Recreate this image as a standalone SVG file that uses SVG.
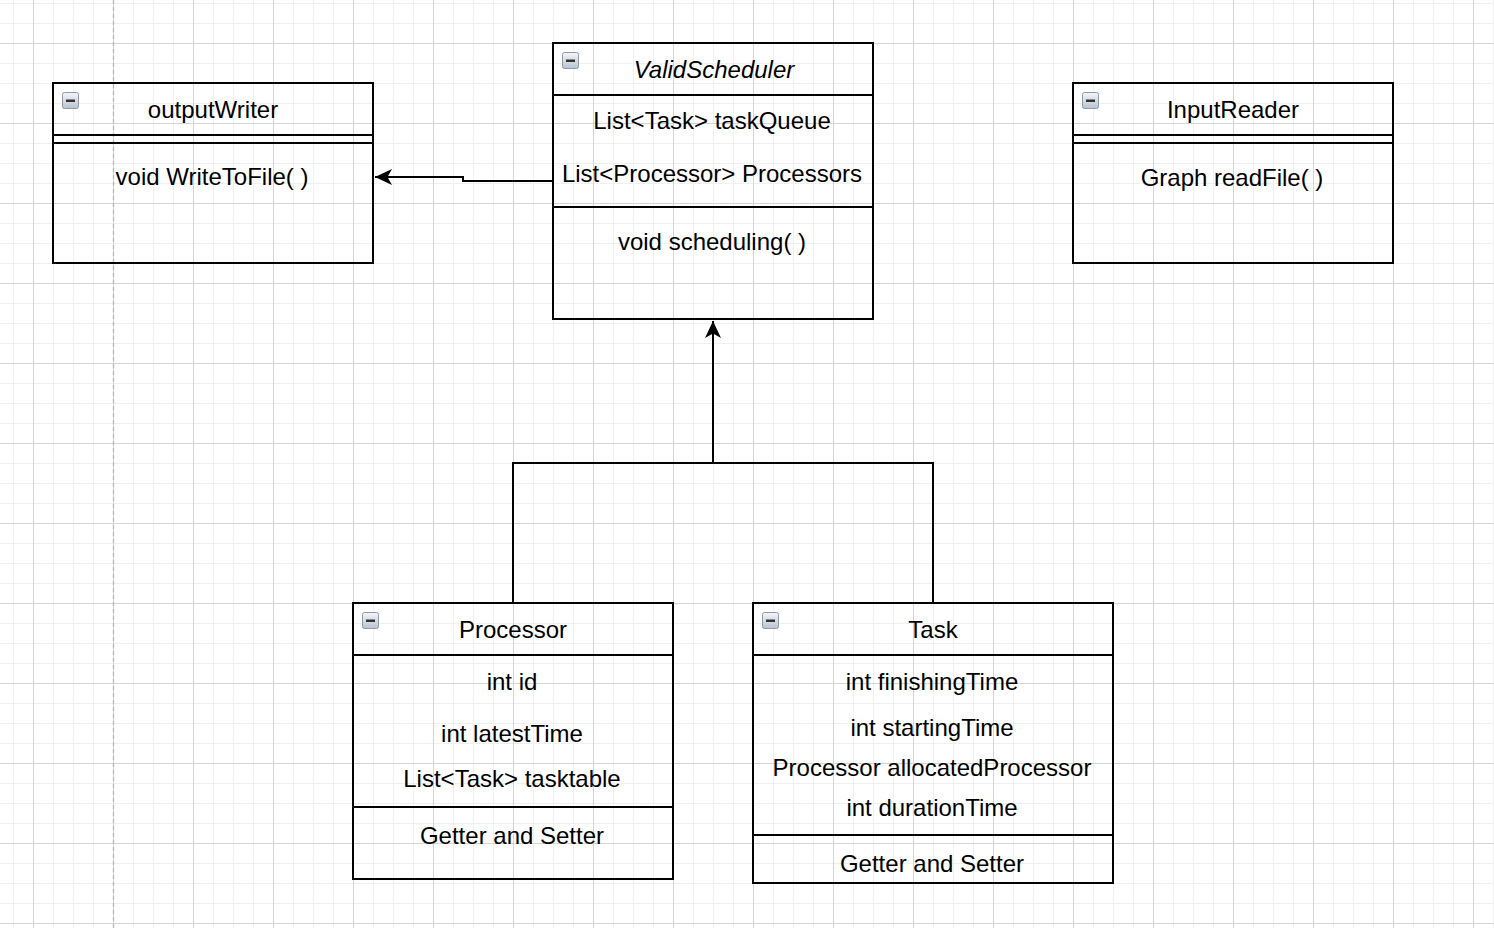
<svg xmlns="http://www.w3.org/2000/svg" width="1494" height="928" viewBox="0 0 1494 928">
<style>
.box{fill:none;stroke:#000;stroke-width:2}
.sep{stroke:#000;stroke-width:2}
.t{font-family:"Liberation Sans",Arial,Helvetica,sans-serif;font-size:24px;fill:#000;text-anchor:middle}
.it{font-style:italic}
.conn{fill:none;stroke:#000;stroke-width:2}
</style>
<defs>
<pattern id="grid" patternUnits="userSpaceOnUse" x="-47" y="-37" width="80" height="80">
<rect x="20" y="0" width="1" height="80" fill="#f0f0f0"/>
<rect x="40" y="0" width="1" height="80" fill="#f0f0f0"/>
<rect x="60" y="0" width="1" height="80" fill="#f0f0f0"/>
<rect x="0" y="20" width="80" height="1" fill="#f0f0f0"/>
<rect x="0" y="40" width="80" height="1" fill="#f0f0f0"/>
<rect x="0" y="60" width="80" height="1" fill="#f0f0f0"/>
<rect x="0" y="0" width="1" height="80" fill="#d5d5d5"/>
<rect x="0" y="0" width="80" height="1" fill="#d5d5d5"/>
</pattern>
<linearGradient id="ig" x1="0" y1="0" x2="0" y2="1">
<stop offset="0" stop-color="#f4f6f9"/>
<stop offset="1" stop-color="#b9c3cf"/>
</linearGradient>
<g id="minus">
<rect x="0.5" y="0.5" width="16" height="16" rx="2" fill="url(#ig)" stroke="#8e9aa8" stroke-width="1"/>
<rect x="4" y="7.5" width="9" height="2.5" fill="#333"/>
</g>
<marker id="arr" markerUnits="userSpaceOnUse" markerWidth="20" markerHeight="20" viewBox="0 0 20 20" refX="18" refY="10" orient="auto">
<path d="M18 10 L1 2 L5.5 10 L1 18 Z" fill="#000"/>
</marker>
</defs>
<rect width="1494" height="928" fill="#fff"/>
<rect width="1494" height="928" fill="url(#grid)"/>
<line x1="113.5" y1="0" x2="113.5" y2="928" stroke="#b8b8b8" stroke-width="1.3" stroke-dasharray="4 3"/>

<g id="connectors">
<path class="conn" d="M553 181 H463 V177 H375" marker-end="url(#arr)"/>
<path class="conn" d="M513 603 V463 H713 V321" marker-end="url(#arr)"/>
<path class="conn" d="M933 603 V463 H713"/>
</g>

<g id="outputWriter">
<rect class="box" x="53" y="83" width="320" height="180"/>
<line class="sep" x1="53" y1="135" x2="373" y2="135"/>
<line class="sep" x1="53" y1="143" x2="373" y2="143"/>
<use href="#minus" x="62" y="92"/>
<text class="t" x="213" y="118">outputWriter</text>
<text class="t" x="212" y="185">void WriteToFile( )</text>
</g>

<g id="ValidScheduler">
<rect class="box" x="553" y="43" width="320" height="276"/>
<line class="sep" x1="553" y1="95" x2="873" y2="95"/>
<line class="sep" x1="553" y1="207" x2="873" y2="207"/>
<use href="#minus" x="562" y="52"/>
<text class="t it" x="714" y="78">ValidScheduler</text>
<text class="t" x="712" y="129">List&lt;Task&gt; taskQueue</text>
<text class="t" x="712" y="182">List&lt;Processor&gt; Processors</text>
<text class="t" x="712" y="250">void scheduling( )</text>
</g>

<g id="InputReader">
<rect class="box" x="1073" y="83" width="320" height="180"/>
<line class="sep" x1="1073" y1="135" x2="1393" y2="135"/>
<line class="sep" x1="1073" y1="143" x2="1393" y2="143"/>
<use href="#minus" x="1082" y="92"/>
<text class="t" x="1233" y="118">InputReader</text>
<text class="t" x="1232" y="186">Graph readFile( )</text>
</g>

<g id="Processor">
<rect class="box" x="353" y="603" width="320" height="276"/>
<line class="sep" x1="353" y1="655" x2="673" y2="655"/>
<line class="sep" x1="353" y1="807" x2="673" y2="807"/>
<use href="#minus" x="362" y="612"/>
<text class="t" x="513" y="638">Processor</text>
<text class="t" x="512" y="690">int id</text>
<text class="t" x="512" y="742">int latestTime</text>
<text class="t" x="512" y="787">List&lt;Task&gt; tasktable</text>
<text class="t" x="512" y="844">Getter and Setter</text>
</g>

<g id="Task">
<rect class="box" x="753" y="603" width="360" height="280"/>
<line class="sep" x1="753" y1="655" x2="1113" y2="655"/>
<line class="sep" x1="753" y1="835" x2="1113" y2="835"/>
<use href="#minus" x="762" y="612"/>
<text class="t" x="933" y="638">Task</text>
<text class="t" x="932" y="690">int finishingTime</text>
<text class="t" x="932" y="736">int startingTime</text>
<text class="t" x="932" y="776">Processor allocatedProcessor</text>
<text class="t" x="932" y="816">int durationTime</text>
<text class="t" x="932" y="872">Getter and Setter</text>
</g>
</svg>
